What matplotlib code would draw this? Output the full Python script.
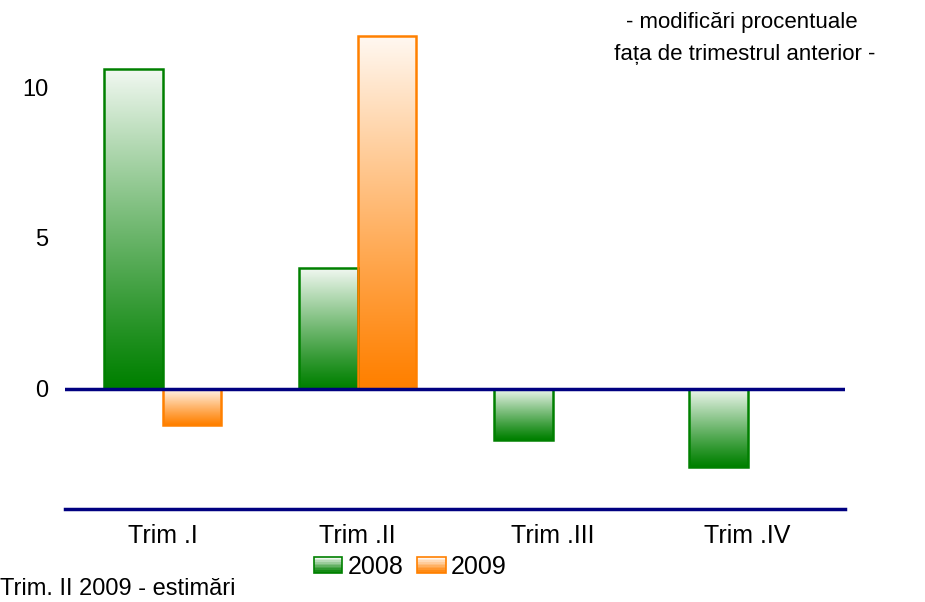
import numpy as np
import matplotlib
matplotlib.use("Agg")
import matplotlib.pyplot as plt
from matplotlib.patches import Rectangle
from matplotlib.legend_handler import HandlerBase
from matplotlib.colors import to_rgb

categories = ["Trim .I", "Trim .II", "Trim .III", "Trim .IV"]
series_names = ["2008", "2009"]
values_2008 = [10.6, 4.0, -1.7, -2.6]
values_2009 = [-1.2, 11.7, np.nan, np.nan]
yticks = [0, 5, 10]
note_top = "- modificări procentuale\n fața de trimestrul anterior -"
note_bottom = "Trim. II 2009 - estimări"

GREEN = "#008000"
ORANGE = "#FF8000"
NAVY = "#000080"

plt.rcParams['font.family'] = ['Liberation Sans', 'DejaVu Sans']

fig = plt.figure(figsize=(9.25, 6.02), dpi=100)
ax = fig.add_axes([65/925, 1-509/602, (845-65)/925, (509-27)/602])

x = np.arange(len(categories))
w = 0.3


def gradient_img(color, n=64):
    c = np.array(to_rgb(color))
    s = np.linspace(0, 1, n)
    t = (0.94 * s ** 1.1)[:, None]  # 0 -> color (bottom), ~1 -> near white (top)
    return c[None, :] * (1 - t) + np.ones(3)[None, :] * t


bars_a = ax.bar(x - w/2, values_2008, w, facecolor='none', edgecolor=GREEN, lw=1.8, zorder=3)
bars_b = ax.bar(x + w/2, values_2009, w, facecolor='none', edgecolor=ORANGE, lw=1.8, zorder=3)

for bars, col in ((bars_a, GREEN), (bars_b, ORANGE)):
    for b in bars:
        h = b.get_height()
        if not np.isfinite(h):
            continue
        x0 = b.get_x()
        x1 = x0 + b.get_width()
        y0 = min(b.get_y(), b.get_y() + h)
        y1 = max(b.get_y(), b.get_y() + h)
        img = gradient_img(col)[:, None, :]
        ax.imshow(img, extent=[x0, x1, y0, y1], origin='lower', aspect='auto',
                  interpolation='bilinear', zorder=2)

ax.axhline(0, color=NAVY, lw=2.5, zorder=4)
ax.set_xlim(-0.5, len(categories) - 0.5)
ax.set_ylim(-4, 12)
ax.set_yticks(yticks)
ax.set_yticklabels([str(v) for v in yticks])
ax.set_xticks(x)
ax.set_xticklabels(categories)
ax.tick_params(axis='both', length=0)
ax.tick_params(axis='y', pad=12, labelsize=17)
ax.tick_params(axis='x', pad=11, labelsize=18)
for s in ('top', 'right', 'left'):
    ax.spines[s].set_visible(False)
ax.spines['bottom'].set_color(NAVY)
ax.spines['bottom'].set_linewidth(2.5)


class GradientHandler(HandlerBase):
    def __init__(self, color, **kw):
        super().__init__(**kw)
        self.color = color

    def create_artists(self, legend, orig_handle, xdescent, ydescent, width, height, fontsize, trans):
        arts = []
        n = 10
        grad = gradient_img(self.color, n)
        for i in range(n):
            r = Rectangle((-xdescent, -ydescent + height * i / n), width, height / n,
                          facecolor=grad[i], edgecolor='none', transform=trans)
            arts.append(r)
        arts.append(Rectangle((-xdescent, -ydescent), width, height, facecolor='none',
                              edgecolor=self.color, lw=1.2, transform=trans))
        return arts


h1 = Rectangle((0, 0), 1, 1)
h2 = Rectangle((0, 0), 1, 1)
fig.legend([h1, h2], series_names, loc='center', bbox_to_anchor=(410/925, 1-567/602),
           ncol=2, frameon=False, fontsize=18, handlelength=1.15, handleheight=0.6,
           handletextpad=0.2, columnspacing=0.55, borderaxespad=0, borderpad=0,
           handler_map={h1: GradientHandler(GREEN), h2: GradientHandler(ORANGE)})

fig.text(742/925, 1-38.5/602, note_top, ha='center', va='center', fontsize=16, linespacing=1.7)
fig.text(0/925, 1-589/602, note_bottom, ha='left', va='center', fontsize=17)

fig.savefig("out.png", dpi=100)
